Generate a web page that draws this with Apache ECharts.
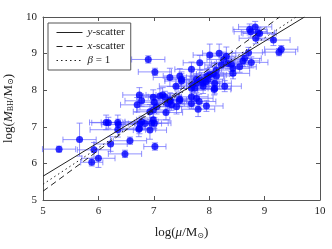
<!DOCTYPE html>
<html><head><meta charset="utf-8">
<script src="https://cdn.jsdelivr.net/npm/echarts@6/dist/echarts.min.js"></script>
<style>html,body{margin:0;padding:0;background:#fff}#c{width:332px;height:249px}</style>
</head><body><div id="c"></div>
<script>
var muVals  = [5.29,5.66,5.88,5.92,6.00,6.14,6.18,6.22,6.35,6.36,6.35,6.48,6.57,6.74,6.93,7.02,6.93,6.78,6.84,6.99,7.01,7.22,6.74,6.70,6.78,6.99,7.01,7.11,7.16,7.20,7.30,7.32,7.46,6.99,7.05,7.25,6.90,7.02,7.40,7.47,7.50,7.29,7.68,7.77,7.83,8.01,8.18,8.31,7.89,7.98,8.07,8.13,8.22,8.10,8.28,8.26,8.34,8.40,8.55,8.61,8.64,8.76,8.43,8.71,8.83,8.73,8.75,8.88,8.91,8.84,9.16,9.30,9.26,7.68,7.89,8.09,7.29,7.47,7.68,7.77,7.82,7.80,7.95,7.41,7.68,7.50,7.70,7.78,7.86,7.94,7.96,8.13,6.96,6.73,6.75,8.43,8.10,7.74,8.01];
var mbhVals = [6.39,6.65,6.03,6.37,6.14,7.12,7.11,6.53,7.12,7.06,6.92,6.26,6.62,6.96,6.91,6.46,7.41,7.14,7.09,7.19,7.10,7.39,7.87,7.60,7.71,7.81,7.67,7.84,7.87,7.82,7.71,7.60,7.71,7.46,7.55,7.64,8.84,8.50,8.11,8.39,8.30,8.35,8.57,8.30,8.75,8.96,9.01,8.93,8.19,8.30,8.44,8.55,8.69,8.19,8.11,8.84,8.73,8.71,8.64,8.80,8.87,8.76,8.60,9.02,9.73,9.66,9.60,9.57,9.55,9.42,9.37,9.12,9.04,8.05,8.11,8.02,7.73,7.75,7.82,7.78,7.69,7.48,7.57,7.55,7.64,8.25,8.14,8.20,8.28,8.23,8.39,8.39,7.10,6.93,7.08,8.46,8.05,8.05,8.42];
var muErr   = [0.3,0.3,0.2,0.3,0.3,0.3,0.3,0.3,0.3,0.3,0.5,0.3,0.3,0.3,0.3,0.2,0.3,0.3,0.3,0.3,0.3,0.3,0.3,0.3,0.3,0.3,0.3,0.3,0.3,0.3,0.3,0.3,0.3,0.3,0.3,0.3,0.3,0.3,0.3,0.3,0.3,0.3,0.3,0.3,0.3,0.3,0.3,0.3,0.3,0.3,0.3,0.3,0.3,0.3,0.3,0.3,0.3,0.3,0.3,0.3,0.3,0.3,0.3,0.3,0.3,0.3,0.3,0.3,0.3,0.3,0.3,0.3,0.3,0.3,0.3,0.3,0.3,0.3,0.3,0.3,0.3,0.3,0.3,0.3,0.3,0.3,0.3,0.3,0.3,0.3,0.3,0.3,0.3,0.3,0.3,0.3,0.3,0.3,0.3];
var mbhErr  = [0.08,0.45,0.10,0.20,0.25,0.20,0.15,0.20,0.20,0.15,0.20,0.10,0.10,0.15,0.25,0.10,0.20,0.15,0.15,0.20,0.15,0.20,0.20,0.20,0.15,0.20,0.15,0.20,0.20,0.15,0.20,0.15,0.15,0.20,0.20,0.15,0.10,0.10,0.20,0.20,0.20,0.25,0.20,0.15,0.20,0.30,0.25,0.25,0.20,0.20,0.20,0.20,0.20,0.20,0.15,0.20,0.15,0.20,0.15,0.15,0.15,0.15,0.20,0.15,0.15,0.15,0.15,0.15,0.15,0.15,0.15,0.10,0.10,0.20,0.20,0.15,0.20,0.20,0.20,0.15,0.20,0.20,0.15,0.20,0.15,0.20,0.20,0.20,0.20,0.20,0.20,0.20,0.15,0.20,0.15,0.15,0.15,0.15,0.20];
var yScatterLine = [[5,5.65],[9.72,10]];
var xScatterLine = [[5,5.24],[9.27,10]];
var betaOneLine  = [[5,5.43],[9.57,10]];
var xTicks = [5,6,7,8,9,10];
var yTicks = [5,6,7,8,9,10];
var seriesNames = ['y-scatter','x-scatter','β = 1'];

var pts = muVals.map(function(v,i){return [v, mbhVals[i], muErr[i], mbhErr[i]];});
var serif = '"Liberation Serif","DejaVu Serif",serif';
var axCol = '#555';

function errItem(params, api){
  var x = api.value(0), y = api.value(1), xe = api.value(2), ye = api.value(3);
  var l = api.coord([x-xe,y]), r = api.coord([x+xe,y]);
  var t = api.coord([x,y+ye]), b = api.coord([x,y-ye]);
  var st = {stroke:'rgba(100,100,255,0.7)', lineWidth:1};
  var c = 3;
  return {type:'group', children:[
    {type:'line', shape:{x1:l[0],y1:l[1],x2:r[0],y2:r[1]}, style:st},
    {type:'line', shape:{x1:t[0],y1:t[1],x2:b[0],y2:b[1]}, style:st},
    {type:'line', shape:{x1:l[0],y1:l[1]-c,x2:l[0],y2:l[1]+c}, style:st},
    {type:'line', shape:{x1:r[0],y1:r[1]-c,x2:r[0],y2:r[1]+c}, style:st},
    {type:'line', shape:{x1:t[0]-c,y1:t[1],x2:t[0]+c,y2:t[1]}, style:st},
    {type:'line', shape:{x1:b[0]-c,y1:b[1],x2:b[0]+c,y2:b[1]}, style:st}
  ]};
}

var chart = echarts.init(document.getElementById('c'), null, {renderer:'canvas'});
var baseX = {type:'value', min:xTicks[0], max:xTicks[xTicks.length-1], interval:1,
  splitLine:{show:false}, axisLine:{lineStyle:{color:axCol,width:1}},
  axisTick:{inside:true,length:4,lineStyle:{color:axCol}}};
var baseY = {type:'value', min:yTicks[0], max:yTicks[yTicks.length-1], interval:1,
  splitLine:{show:false}, axisLine:{lineStyle:{color:axCol,width:1}},
  axisTick:{inside:true,length:4,lineStyle:{color:axCol}}};
chart.setOption({
  animation:false,
  grid:{left:43,right:12,top:17,bottom:49,containLabel:false,outerBoundsMode:'none'},
  xAxis:[
    Object.assign({}, baseX, {position:'bottom',
      axisLabel:{fontFamily:serif,fontSize:11,color:'#222',margin:6},
      name:'{n|log(}{i|μ}{n|/M}{s|⊙}{n|)}', nameLocation:'middle', nameGap:26,
      nameTextStyle:{rich:{
        n:{fontFamily:serif,fontSize:13,color:'#222'},
        i:{fontFamily:serif,fontSize:13,fontStyle:'italic',color:'#222'},
        s:{fontFamily:'"DejaVu Sans",sans-serif',fontSize:8,color:'#222',padding:[6,0,0,0]}
      }}}),
    Object.assign({}, baseX, {position:'top', axisLabel:{show:false}})
  ],
  yAxis:[
    Object.assign({}, baseY, {position:'left',
      axisLabel:{fontFamily:serif,fontSize:11,color:'#222',margin:6},
      name:'{n|log(}{i|M}{s|BH}{n|/M}{s|⊙}{n|)}', nameLocation:'middle', nameGap:21,
      nameTextStyle:{rich:{
        n:{fontFamily:serif,fontSize:13,color:'#222'},
        i:{fontFamily:serif,fontSize:13,fontStyle:'italic',color:'#222'},
        s:{fontFamily:serif,fontSize:8,color:'#222',padding:[6,0,0,0]}
      }}}),
    Object.assign({}, baseY, {position:'right', axisLabel:{show:false}})
  ],
  legend:{
    left:48, top:23, orient:'vertical', itemWidth:26, itemHeight:10, itemGap:3,
    padding:[4,6,4,8], borderColor:axCol, borderWidth:1, backgroundColor:'#fff',
    data:seriesNames,
    itemStyle:{opacity:0},
    lineStyle:{width:1},
    formatter:function(n){
      if(n==='y-scatter') return '{i|y}{n|-scatter}';
      if(n==='x-scatter') return '{i|x}{n|-scatter}';
      return '{i|β}{n| = 1}';
    },
    textStyle:{rich:{
      n:{fontFamily:serif,fontSize:11,color:'#222'},
      i:{fontFamily:serif,fontSize:11,fontStyle:'italic',color:'#222'}
    }}
  },
  series:[
    {type:'custom', name:'err', renderItem:errItem, data:pts, z:2, silent:true},
    {type:'scatter', name:'pts', data:pts, symbolSize:7, itemStyle:{color:'#0000ff'}, z:3},
    {type:'line', name:seriesNames[0], data:yScatterLine, symbol:'none', z:4,
      lineStyle:{color:'#222',width:1,type:'solid'}, itemStyle:{color:'#222'}},
    {type:'line', name:seriesNames[1], data:xScatterLine, symbol:'none', z:4,
      lineStyle:{color:'#222',width:1,type:[6,4]}, itemStyle:{color:'#222'}},
    {type:'line', name:seriesNames[2], data:betaOneLine, symbol:'none', z:4,
      lineStyle:{color:'#222',width:1,type:[1.5,3]}, itemStyle:{color:'#222'}}
  ]
});
</script></body></html>
